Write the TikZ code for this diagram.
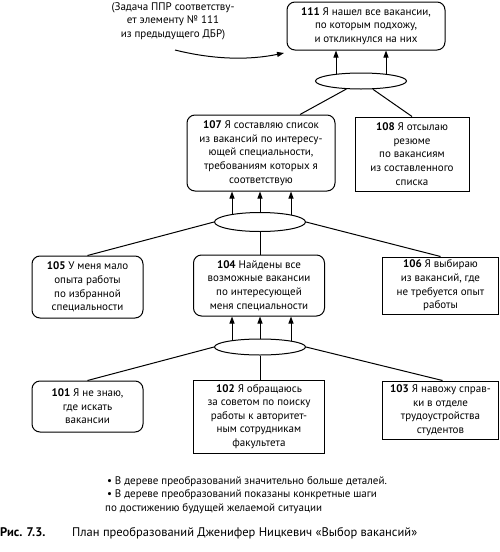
\documentclass[tikz,border=0pt]{standalone}
\usepackage{fontspec}
\setmainfont{PT Sans}
\usetikzlibrary{shapes.geometric,arrows.meta,backgrounds,calc}
\newcommand{\fs}{\fontsize{11}{13.6}\selectfont}
\tikzset{
  box/.style={draw, line width=1pt, align=center, inner sep=0pt, font=\fs, fill=white},
  rbox/.style={box, rounded corners=8pt},
  ell/.style={draw, ellipse, fill=white, line width=1pt, inner sep=0pt},
  conn/.style={line width=1pt},
  arr/.style={conn, -{Triangle[length=7pt,width=5pt]}},
  note/.style={font=\fs, align=center, inner sep=0pt},
}
\begin{document}
\begin{tikzpicture}[x=1pt,y=-1pt]
\useasboundingbox (0,0) rectangle (500,552);
% top
\node[rbox, minimum width=158, minimum height=48] (n111) at (366,26)
  {\textbf{111} Я нашел все вакансии,\\ по которым подхожу,\\ и откликнулся на них};
\node[ell, minimum width=91, minimum height=16] (e1) at (361,81) {};
\node[note] (ann) at (173,21) {(Задача ППР соответству-\\ет элементу № 111\\ из предыдущего ДБР)};
% level 2
\node[rbox, minimum width=148, minimum height=76] (n107) at (261,153)
  {\textbf{107} Я составляю список\\ из вакансий по интересу-\\ющей специальности,\\ требованиям которых я\\ соответствую};
\node[box, minimum width=114, minimum height=74] (n108) at (412,154)
  {\textbf{108} Я отсылаю\\ резюме\\ по вакансиям\\ из составленного\\ списка};
\node[ell, minimum width=91, minimum height=19] (e2) at (260,222) {};
% level 3
\node[rbox, minimum width=111, minimum height=62] (n105) at (87.5,287)
  {\textbf{105} У меня мало\\ опыта работы\\ по избранной\\ специальности};
\node[rbox, minimum width=131, minimum height=61] (n104) at (259,285.5)
  {\textbf{104} Найдены все\\ возможные вакансии\\ по интересующей\\ меня специальности};
\node[box, minimum width=116, minimum height=57] (n106) at (440.5,285.5)
  {\textbf{106} Я выбираю\\ из вакансий, где\\ не требуется опыт\\ работы};
\node[ell, minimum width=91, minimum height=16] (e3) at (260,347) {};
% level 4
\node[rbox, minimum width=111, minimum height=51] (n101) at (87.5,406.5)
  {\textbf{101} Я не знаю,\\ где искать\\ вакансии};
\node[box, minimum width=131, minimum height=73] (n102) at (259,416.5)
  {\textbf{102} Я обращаюсь\\ за советом по поиску\\ работы к авторитет-\\ным сотрудникам\\ факультета};
\node[box, minimum width=116, minimum height=58] (n103) at (440.5,410)
  {\textbf{103} Я навожу справ-\\ки в отделе\\ трудоустройства\\ студентов};
% notes
\node[font=\fs, align=left, inner sep=0pt, anchor=north west] (bul) at (105,476)
  {\,• В дереве преобразований значительно больше деталей.\\
   \,• В дереве преобразований показаны конкретные шаги\\
   по достижению будущей желаемой ситуации};
\node[font=\fontsize{12.5}{15}\selectfont\bfseries, anchor=base west, inner sep=0pt] (cap1) at (0,536) {Рис. 7.3.};
\node[font=\fontsize{12.5}{15}\selectfont, anchor=base west, inner sep=0pt] (cap2) at (72,536)
  {План преобразований Дженифер Ницкевич «Выбор вакансий»};
% curved arrow
\coordinate (cs) at (175,50);
\coordinate (ce) at (284,53);
\draw[arr] (cs) .. controls (215,60) and (250,60) .. (ce);
\begin{scope}[on background layer]
  \draw[arr] ($(e1.center)+(-25,0)$) -- ($(n111.south)+(-30,0)$);
  \draw[arr] ($(e1.center)+(25,0)$) -- ($(n111.south)+(20,0)$);
  \draw[conn] (e1) -- ($(n107.north)+(39,0)$);
  \draw[conn] (e1) -- (n108.north);
  \draw[arr] ($(e2.center)+(-28,0)$) -- ($(n107.south)+(-29,0)$);
  \draw[arr] ($(e2.center)+(0,0)$) -- ($(n107.south)+(-1,0)$);
  \draw[arr] ($(e2.center)+(31,0)$) -- ($(n107.south)+(30,0)$);
  \draw[conn] (e2.west) -- (n105.north);
  \draw[conn] (e2.south) -- (e2.south |- n104.north);
  \draw[conn] (e2.east) -- (n106.north);
  \draw[arr] ($(e3.center)+(-28,0)$) -- ($(n104.south)+(-27,0)$);
  \draw[arr] ($(e3.center)+(0,0)$) -- ($(n104.south)+(1,0)$);
  \draw[arr] ($(e3.center)+(31,0)$) -- ($(n104.south)+(32,0)$);
  \draw[conn] (e3.west) -- (n101.north);
  \draw[conn] (e3.south) -- (e3.south |- n102.north);
  \draw[conn] (e3.east) -- ($(n103.north)+(2,0)$);
\end{scope}
\end{tikzpicture}
\end{document}
